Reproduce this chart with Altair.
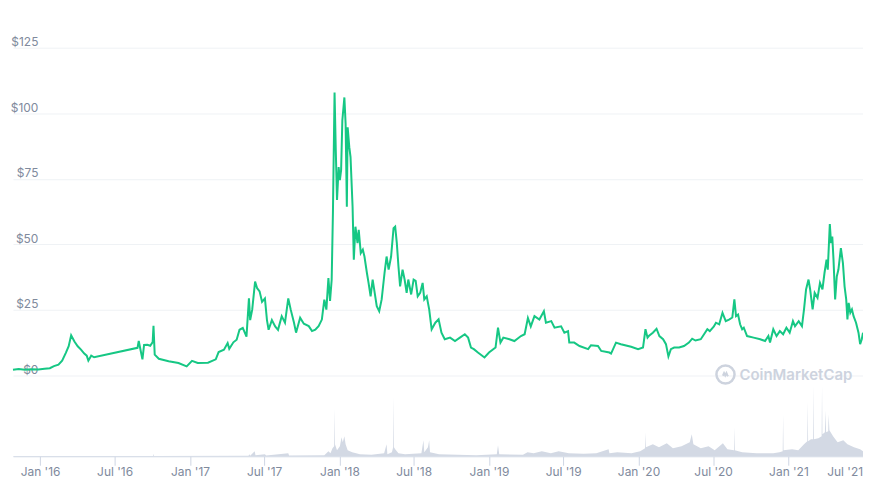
import altair as alt
import pandas as pd

# ---------------- data ----------------
price_dates = [
    "2015-10-27", "2015-11-10", "2015-11-25", "2015-12-10", "2015-12-28",
    "2016-01-12", "2016-01-25", "2016-02-04", "2016-02-15", "2016-02-24",
    "2016-03-04", "2016-03-11", "2016-03-17", "2016-03-25", "2016-04-02",
    "2016-04-10", "2016-04-18", "2016-04-24", "2016-04-28", "2016-05-05",
    "2016-05-12", "2016-08-26", "2016-08-29", "2016-09-03", "2016-09-07",
    "2016-09-11", "2016-09-19", "2016-09-26", "2016-10-02", "2016-10-04",
    "2016-10-07", "2016-10-17", "2016-11-10", "2016-12-04", "2016-12-24",
    "2017-01-06", "2017-01-20", "2017-02-14", "2017-03-05", "2017-03-12",
    "2017-03-25", "2017-04-03", "2017-04-07", "2017-04-17", "2017-04-25",
    "2017-05-02", "2017-05-10", "2017-05-19", "2017-05-25", "2017-05-28",
    "2017-06-02", "2017-06-09", "2017-06-14", "2017-06-20", "2017-06-26",
    "2017-07-03", "2017-07-08", "2017-07-12", "2017-07-20", "2017-07-28",
    "2017-08-04", "2017-08-13", "2017-08-21", "2017-08-29", "2017-09-04",
    "2017-09-12", "2017-09-17", "2017-09-27", "2017-10-06", "2017-10-18",
    "2017-10-26", "2017-11-03", "2017-11-11", "2017-11-19", "2017-11-25",
    "2017-11-30", "2017-12-05", "2017-12-09", "2017-12-13", "2017-12-16",
    "2017-12-20", "2017-12-23", "2017-12-26", "2017-12-30", "2018-01-02",
    "2018-01-05", "2018-01-08", "2018-01-13", "2018-01-16", "2018-01-19",
    "2018-01-21", "2018-01-25", "2018-01-28", "2018-02-02", "2018-02-05",
    "2018-02-09", "2018-02-14", "2018-02-17", "2018-02-22", "2018-02-27",
    "2018-03-03", "2018-03-09", "2018-03-13", "2018-03-18", "2018-03-23",
    "2018-03-28", "2018-04-02", "2018-04-08", "2018-04-14", "2018-04-21",
    "2018-04-26", "2018-05-01", "2018-05-07", "2018-05-13", "2018-05-17",
    "2018-05-21", "2018-05-25", "2018-05-29", "2018-06-04", "2018-06-09",
    "2018-06-14", "2018-06-18", "2018-06-25", "2018-07-01", "2018-07-06",
    "2018-07-11", "2018-07-17", "2018-07-23", "2018-07-27", "2018-08-02",
    "2018-08-08", "2018-08-14", "2018-08-23", "2018-08-31", "2018-09-07",
    "2018-09-15", "2018-09-28", "2018-10-10", "2018-10-22", "2018-11-03",
    "2018-11-11", "2018-11-18", "2018-11-25", "2018-12-05", "2018-12-21",
    "2019-01-01", "2019-01-17", "2019-01-23", "2019-01-29", "2019-02-05",
    "2019-02-20", "2019-03-04", "2019-03-20", "2019-03-29", "2019-04-06",
    "2019-04-13", "2019-04-22", "2019-05-04", "2019-05-15", "2019-05-20",
    "2019-06-02", "2019-06-10", "2019-06-26", "2019-07-04", "2019-07-13",
    "2019-07-16", "2019-07-28", "2019-08-10", "2019-08-31", "2019-09-07",
    "2019-09-24", "2019-10-02", "2019-10-22", "2019-10-26", "2019-11-07",
    "2019-11-19", "2019-12-14", "2019-12-31", "2020-01-12", "2020-01-18",
    "2020-01-23", "2020-01-26", "2020-02-05", "2020-02-14", "2020-02-21",
    "2020-03-01", "2020-03-08", "2020-03-14", "2020-03-20", "2020-03-28",
    "2020-04-09", "2020-04-21", "2020-05-03", "2020-05-11", "2020-05-19",
    "2020-06-01", "2020-06-09", "2020-06-17", "2020-06-23", "2020-07-03",
    "2020-07-08", "2020-07-16", "2020-07-24", "2020-08-01", "2020-08-09",
    "2020-08-17", "2020-08-22", "2020-08-26", "2020-08-31", "2020-09-05",
    "2020-09-10", "2020-09-14", "2020-09-22", "2020-10-08", "2020-10-24",
    "2020-11-05", "2020-11-13", "2020-11-17", "2020-11-25", "2020-12-03",
    "2020-12-11", "2020-12-19", "2020-12-27", "2021-01-04", "2021-01-12",
    "2021-01-17", "2021-01-26", "2021-02-03", "2021-02-08", "2021-02-13",
    "2021-02-19", "2021-02-23", "2021-03-01", "2021-03-06", "2021-03-13",
    "2021-03-19", "2021-03-25", "2021-03-30", "2021-04-04", "2021-04-07",
    "2021-04-12", "2021-04-15", "2021-04-18", "2021-04-21", "2021-04-25",
    "2021-04-29", "2021-05-03", "2021-05-09", "2021-05-14", "2021-05-18",
    "2021-05-22", "2021-05-25", "2021-05-28", "2021-06-01", "2021-06-05",
    "2021-06-09", "2021-06-15", "2021-06-21", "2021-06-25", "2021-06-29",
    "2021-07-02",
]
price_values = [
    2.0, 2.3, 2.0, 2.2, 2.1,
    2.4, 2.6, 3.4, 4.0, 5.5,
    8.5, 11.0, 15.2, 12.8, 11.0,
    9.7, 8.2, 7.4, 5.5, 7.4,
    6.8, 10.4, 13.0, 9.1, 6.0,
    11.5, 11.6, 11.2, 12.6, 18.8,
    7.8, 6.2, 5.3, 4.6, 3.3,
    5.4, 4.6, 4.7, 6.0, 8.8,
    9.7, 12.2, 10.0, 12.5, 13.5,
    17.3, 18.0, 14.7, 29.3, 21.0,
    25.0, 35.7, 33.2, 32.0, 28.0,
    29.3, 21.0, 17.3, 21.0, 18.6,
    17.3, 22.5, 20.0, 29.3, 25.0,
    20.0, 16.2, 21.9, 19.6, 18.7,
    16.8, 17.3, 18.7, 21.2, 28.8,
    25.0, 37.1, 28.3, 36.5, 61.8,
    108.0, 85.9, 66.9, 79.5, 74.5,
    78.3, 97.3, 106.1, 96.0, 64.3,
    94.7, 87.1, 83.3, 64.3, 44.1,
    56.7, 50.4, 55.5, 46.6, 47.9,
    45.3, 39.0, 35.2, 30.1, 36.5,
    31.4, 26.3, 24.4, 28.9, 39.0,
    45.3, 40.3, 45.3, 56.1, 56.7,
    50.4, 41.5, 33.9, 40.3, 36.5,
    31.4, 36.5, 30.8, 36.5, 36.0,
    30.1, 31.4, 35.2, 28.9, 30.1,
    25.1, 17.5, 20.0, 21.3, 16.2,
    13.7, 14.3, 13.0, 14.3, 15.6,
    14.3, 10.5, 9.9, 8.6, 6.7,
    8.6, 10.5, 18.1, 12.4, 14.3,
    13.7, 13.0, 14.9, 15.6, 21.8,
    18.6, 22.5, 21.2, 24.4, 20.0,
    20.6, 18.1, 18.6, 16.2, 16.8,
    12.4, 12.4, 11.1, 9.9, 11.4,
    11.1, 9.2, 8.6, 8.2, 12.4,
    11.8, 10.8, 9.9, 10.5, 17.5,
    14.3, 14.9, 16.2, 17.7, 14.9,
    13.7, 11.8, 7.1, 9.9, 10.5,
    10.5, 11.1, 12.4, 13.9, 13.2,
    13.7, 15.6, 17.5, 16.8, 18.6,
    20.0, 19.4, 23.8, 20.6, 21.2,
    22.0, 28.9, 22.5, 23.1, 19.4,
    17.5, 18.1, 14.9, 14.3, 13.7,
    13.0, 14.9, 12.4, 17.5, 14.9,
    16.8, 15.6, 18.1, 16.2, 20.6,
    18.7, 20.6, 18.7, 25.1, 32.7,
    36.5, 32.7, 25.1, 31.4, 29.5,
    35.2, 32.7, 39.0, 44.1, 40.3,
    57.7, 50.4, 52.9, 44.1, 28.9,
    37.7, 40.3, 48.5, 42.8, 33.9,
    28.9, 21.3, 27.6, 23.8, 25.1,
    22.5, 20.0, 16.2, 11.8, 13.7,
    16.2,
]

volume_dates = [
    "2015-10-27", "2016-10-03", "2016-10-04", "2016-10-05", "2017-05-24",
    "2017-05-26", "2017-05-28", "2017-06-08", "2017-06-10", "2017-07-03",
    "2017-07-06", "2017-08-29", "2017-08-31", "2017-11-25", "2017-12-05",
    "2017-12-10", "2017-12-15", "2017-12-19", "2017-12-20", "2017-12-21",
    "2017-12-26", "2018-01-02", "2018-01-06", "2018-01-09", "2018-01-13",
    "2018-01-16", "2018-01-21", "2018-02-01", "2018-02-20", "2018-03-20",
    "2018-04-20", "2018-04-26", "2018-04-28", "2018-05-09", "2018-05-12",
    "2018-05-13", "2018-05-14", "2018-05-17", "2018-05-25", "2018-06-10",
    "2018-07-20", "2018-07-25", "2018-07-27", "2018-08-05", "2018-08-08",
    "2018-08-10", "2018-09-01", "2018-12-01", "2019-01-20", "2019-01-23",
    "2019-01-26", "2019-03-25", "2019-04-05", "2019-04-20", "2019-05-10",
    "2019-06-01", "2019-06-20", "2019-07-15", "2019-08-20", "2019-09-20",
    "2019-10-20", "2019-10-22", "2019-11-10", "2019-12-15", "2020-01-05",
    "2020-01-17", "2020-01-18", "2020-01-19", "2020-02-05", "2020-02-20",
    "2020-03-10", "2020-03-25", "2020-04-15", "2020-05-05", "2020-05-10",
    "2020-05-14", "2020-06-01", "2020-06-20", "2020-07-05", "2020-07-25",
    "2020-08-05", "2020-08-21", "2020-08-22", "2020-08-23", "2020-09-10",
    "2020-10-15", "2020-11-25", "2020-12-10", "2020-12-18", "2020-12-19",
    "2020-12-20", "2021-01-10", "2021-01-25", "2021-02-08", "2021-02-16",
    "2021-02-17", "2021-02-18", "2021-02-25", "2021-03-02", "2021-03-03",
    "2021-03-04", "2021-03-15", "2021-03-23", "2021-03-24", "2021-03-25",
    "2021-03-31", "2021-04-01", "2021-04-03", "2021-04-08", "2021-04-09",
    "2021-04-11", "2021-04-20", "2021-05-01", "2021-05-15", "2021-05-25",
    "2021-06-10", "2021-06-25", "2021-07-02",
]
volume_values = [  # 24h volume, $M
    0.6, 0.6, 5, 0.6, 1,
    4, 1, 10, 2, 4,
    1.6, 6, 1.6, 2, 10,
    6, 16, 20, 96, 24,
    12, 20, 38, 28, 40,
    24, 12, 8, 4, 3,
    6, 24, 4, 8, 18,
    120, 18, 14, 6, 4,
    6, 32, 8, 18, 32,
    8, 4, 2, 4, 22,
    4, 3, 8, 6, 10,
    6, 10, 6, 5, 6,
    14, 6, 8, 6, 10,
    16, 48, 18, 24, 18,
    26, 16, 20, 28, 44,
    24, 16, 20, 12, 26,
    14, 12, 58, 12, 8,
    6, 6, 8, 10, 84,
    12, 14, 12, 24, 30,
    110, 30, 34, 34, 142,
    34, 36, 40, 142, 44,
    48, 92, 48, 50, 84,
    52, 40, 28, 32, 24,
    18, 14, 10,
]

price_ticks = [0, 25, 50, 75, 100, 125]
x_tick_months = [(2016, 1), (2016, 7), (2017, 1), (2017, 7), (2018, 1), (2018, 7),
                 (2019, 1), (2019, 7), (2020, 1), (2020, 7), (2021, 1), (2021, 7)]
watermark_text = ["CoinMarketCap"]

# ---------------- chart ----------------
price_df = pd.DataFrame({"date": price_dates, "price": price_values})
vol_df = pd.DataFrame({"date": volume_dates, "volume": volume_values})

LABEL_COLOR = "#808a9d"
FONT = "Inter"

x_scale = alt.Scale(domain=[alt.DateTime(year=2015, month=10, date=27),
                            alt.DateTime(year=2021, month=7, date=2)])
x_axis = alt.Axis(
    values=[alt.DateTime(year=y, month=m, date=1) for (y, m) in x_tick_months],
    format="%b '%y", formatType="time", title=None, grid=False,
    domainColor="#cfd6e4", tickColor="#cfd6e4", tickSize=9,
    labelPadding=1, labelFlush=True, labelOverlap=False,
    labelColor=LABEL_COLOR, labelFontSize=12, labelFont=FONT,
)

volume = alt.Chart(vol_df).mark_area(color="#d3d9e4", interpolate="linear").encode(
    x=alt.X("date:T", scale=x_scale, axis=x_axis),
    y=alt.Y("volume:Q", scale=alt.Scale(domain=[0, 854], nice=False), axis=None),
)

price = alt.Chart(price_df).mark_line(color="#16c784", strokeWidth=2).encode(
    x=alt.X("date:T", scale=x_scale),
    y=alt.Y(
        "price:Q",
        scale=alt.Scale(domain=[-31.04, 131.59], nice=False, zero=False),
        axis=alt.Axis(
            values=price_ticks, labelExpr="'$' + datum.value", title=None,
            domain=False, ticks=False, tickSize=0, labelAlign="right",
            labelBaseline="alphabetic", labelOffset=-2, labelPadding=-25,
            grid=True, gridColor="#eff2f5", gridWidth=1,
            labelColor=LABEL_COLOR, labelFontSize=12, labelFont=FONT,
        ),
    ),
)

wm_df = pd.DataFrame({"t": watermark_text})
wm_text = alt.Chart(wm_df).mark_text(
    align="left", baseline="middle", font=FONT, fontSize=15, fontWeight=600,
    color="#cdd3de",
).encode(x=alt.value(729), y=alt.value(345), text="t:N")

wm_ring = alt.Chart(wm_df).mark_point(
    shape="circle", filled=False, size=330, strokeWidth=2.5, color="#cdd3de",
    opacity=1,
).encode(x=alt.value(715), y=alt.value(345))

wm_wave = alt.Chart(wm_df).mark_point(
    shape="M -0.55 0.25 L -0.3 -0.3 L -0.05 0.2 L 0.2 -0.3 L 0.4 0.15 L 0.6 0.3",
    filled=False, size=90, strokeWidth=2, color="#cdd3de", opacity=1,
).encode(x=alt.value(715), y=alt.value(345))

chart = alt.layer(volume, wm_ring, wm_wave, wm_text, price).resolve_scale(
    y="independent"
).properties(
    width=853, height=427,
    autosize=alt.AutoSizeParams(type="none"),
    padding={"left": 5, "top": 22, "right": 0, "bottom": 24},
    background="white",
).configure_view(stroke=None)

chart.save("out.html", embed_options={"renderer": "svg", "actions": False})
